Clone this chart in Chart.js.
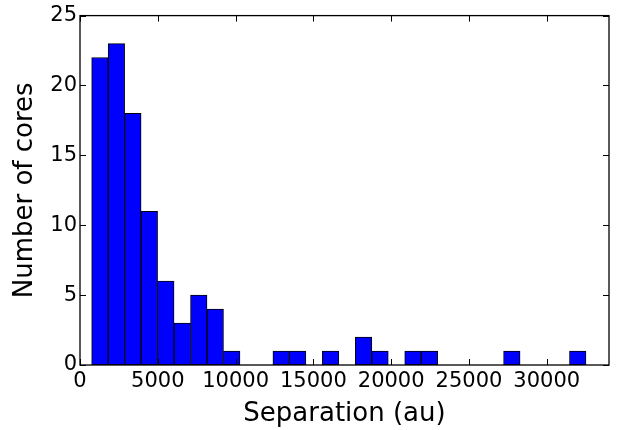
<!DOCTYPE html>
<html>
<head>
<meta charset="utf-8">
<script src="https://cdn.jsdelivr.net/npm/chart.js@4.4.0/dist/chart.umd.min.js"></script>
<style>
  body { margin: 0; background: #fff; }
  #wrap { width: 625px; height: 430px; }
</style>
</head>
<body>
<div id="wrap"><canvas id="hist"></canvas></div>
<script>
// histogram bins (au)
var binStart = 750
var binWidth = 1059
var counts = [22, 23, 18, 11, 6, 3, 5, 4, 1, 0, 0, 1, 1, 0, 1, 0, 2, 1, 0, 1, 1, 0, 0, 0, 0, 1, 0, 0, 0, 1]
var xTicks = [0, 5000, 10000, 15000, 20000, 25000, 30000]
var yTicks = [0, 5, 10, 15, 20, 25]

var points = counts.map(function (c, i) {
	return { x: binStart + binWidth * (i + 0.5), y: c }
})

// matplotlib style frame with ticks pointing inward on all four sides
var framePlugin = {
	id: 'frame',
	afterDraw: function (chart) {
		var ctx = chart.ctx
		var a = chart.chartArea
		var xs = chart.scales.x, ys = chart.scales.y
		ctx.save()
		ctx.strokeStyle = '#000'
		ctx.lineWidth = 1
		xTicks.forEach(function (v) {
			var px = Math.round(xs.getPixelForValue(v)) + 0.5
			ctx.beginPath()
			ctx.moveTo(px, a.bottom); ctx.lineTo(px, a.bottom - 6)
			ctx.moveTo(px, a.top); ctx.lineTo(px, a.top + 6)
			ctx.stroke()
		})
		yTicks.forEach(function (v) {
			var py = Math.round(ys.getPixelForValue(v)) + 0.5
			ctx.beginPath()
			ctx.moveTo(a.left, py); ctx.lineTo(a.left + 6, py)
			ctx.moveTo(a.right, py); ctx.lineTo(a.right - 6, py)
			ctx.stroke()
		})
		ctx.lineWidth = 1.3
		ctx.strokeRect(a.left, a.top, a.right - a.left, a.bottom - a.top)
		ctx.restore()
	}
}

var config = {
	type: 'bar',
	data: {
		datasets: [{
			data: points,
			backgroundColor: '#0000ff',
			borderColor: '#000',
			borderWidth: 1,
			borderSkipped: false,
			barPercentage: 1.0,
			categoryPercentage: 1.0,
			label: 'cores'
		}]
	},
	options: {
		responsive: true,
		maintainAspectRatio: false,
		animation: false,
		layout: { padding: { left: 0, right: 16, top: 11, bottom: 0 } },
		plugins: {
			legend: { display: false },
			tooltip: { enabled: false }
		},
		scales: {
			x: {
				type: 'linear',
				min: 0,
				max: 34000,
				offset: false,
				grid: { display: false, drawTicks: false },
				border: { display: false },
				afterBuildTicks: function (s) { s.ticks = xTicks.map(function (v) { return { value: v } }) },
				afterFit: function (s) { s.height = 65 },
				ticks: {
					padding: 4,
					maxRotation: 0,
					autoSkip: false,
					color: '#000',
					font: { family: 'DejaVu Sans', size: 21 },
					callback: function (v) { return String(v) }
				},
				title: {
					display: true,
					text: 'Separation (au)',
					color: '#000',
					font: { family: 'DejaVu Sans', size: 26 },
					padding: { top: 0, bottom: 0 }
				}
			},
			y: {
				min: 0,
				max: 25,
				grid: { display: false, drawTicks: false },
				border: { display: false },
				afterBuildTicks: function (s) { s.ticks = yTicks.map(function (v) { return { value: v } }) },
				afterFit: function (s) { s.width = 80 },
				ticks: {
					padding: 3,
					color: '#000',
					font: { family: 'DejaVu Sans', size: 21 }
				},
				title: {
					display: true,
					text: 'Number of cores',
					color: '#000',
					font: { family: 'DejaVu Sans', size: 26 },
					padding: { top: 10, bottom: 0 }
				}
			}
		}
	},
	plugins: [framePlugin]
}

window.onload = function () {
	var ctx = document.getElementById('hist').getContext('2d')
	window.myHist = new Chart(ctx, config)
}
</script>
</body>
</html>
